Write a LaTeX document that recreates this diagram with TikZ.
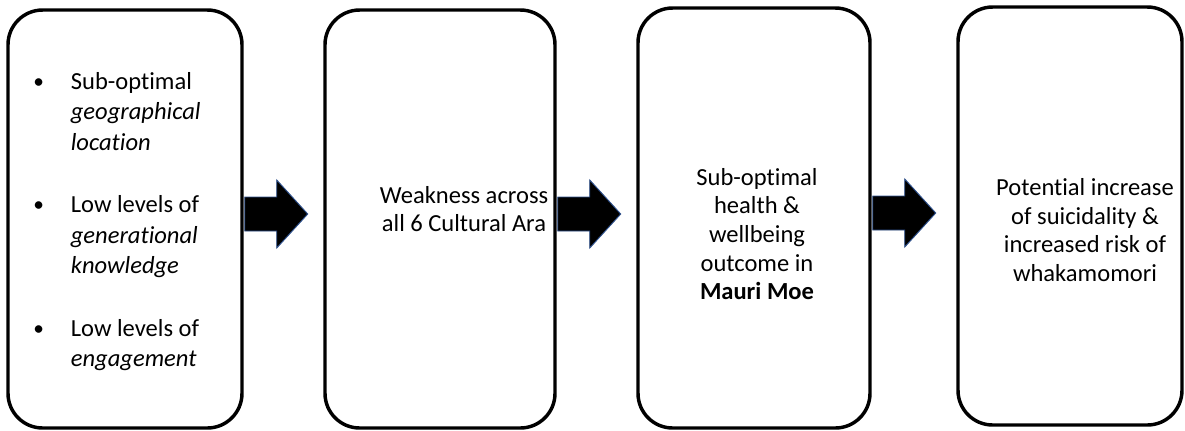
\documentclass[tikz,border=0pt]{standalone}
\usepackage{fontspec}
\setmainfont{Carlito}[Ligatures=NoCommon]
\usetikzlibrary{calc}
\definecolor{arrowedge}{HTML}{2F528F}
\newcommand{\stagebullet}{\raisebox{0.1ex}{\fontsize{16}{16}\selectfont\textbullet}}
\begin{document}
\begin{tikzpicture}[x=0.75pt,y=-0.75pt,
  stagebox/.style={draw=black, line width=2.6pt, rounded corners=26pt, fill=white, inner sep=0pt},
  blockarrow/.style={fill=black, draw=arrowedge, line width=0.7pt, line join=miter},
  stagetext/.style={align=center, inner sep=0pt, font=\fontsize{18.4}{21.5}\selectfont}
]
\useasboundingbox (0,0) rectangle (1185,430);

% the four stages
\node[stagebox, minimum width=175.5pt, minimum height=313.5pt] (b1) at (125,219) {};
\node[stagebox, minimum width=172.5pt, minimum height=313.5pt] (b2) at (440,219) {};
\node[stagebox, minimum width=174pt,   minimum height=315pt]   (b3) at (754,218) {};
\node[stagebox, minimum width=168pt,   minimum height=313.5pt] (b4) at (1070,216) {};

% block arrows leading from one stage to the next
\foreach \a in {b1,b2,b3}{
  \draw[blockarrow] ($(\a.east)+(1,-22)$) -- ++(32,0) -- ++(0,-17) -- ++(31,34)
     -- ++(-31,34) -- ++(0,-17) -- ++(-32,0) -- cycle;
}

% stage texts
\node[anchor=west, inner sep=0pt, font=\fontsize{18.4}{22.9}\selectfont] (t1) at (33,222) {%
  \begin{tabular}{@{}p{28.2pt}@{}l@{}}
  \stagebullet & Sub-optimal\\
   & \textit{geographical}\\
   & \textit{location}\\[24pt]
  \stagebullet & Low levels of\\
   & \textit{generational}\\
   & \textit{knowledge}\\[24pt]
  \stagebullet & Low levels of\\
   & \textit{engagement}
  \end{tabular}};
\node[stagetext] (t2) at (464,209) {Weakness across\\all 6 Cultural Ara};
\node[stagetext] (t3) at (757,234) {Sub-optimal\\health \&\\wellbeing\\outcome in\\\textbf{Mauri Moe}};
\node[stagetext] (t4) at (1085,230) {Potential increase\\of suicidality \&\\increased risk of\\whakamomori};
\end{tikzpicture}
\end{document}
